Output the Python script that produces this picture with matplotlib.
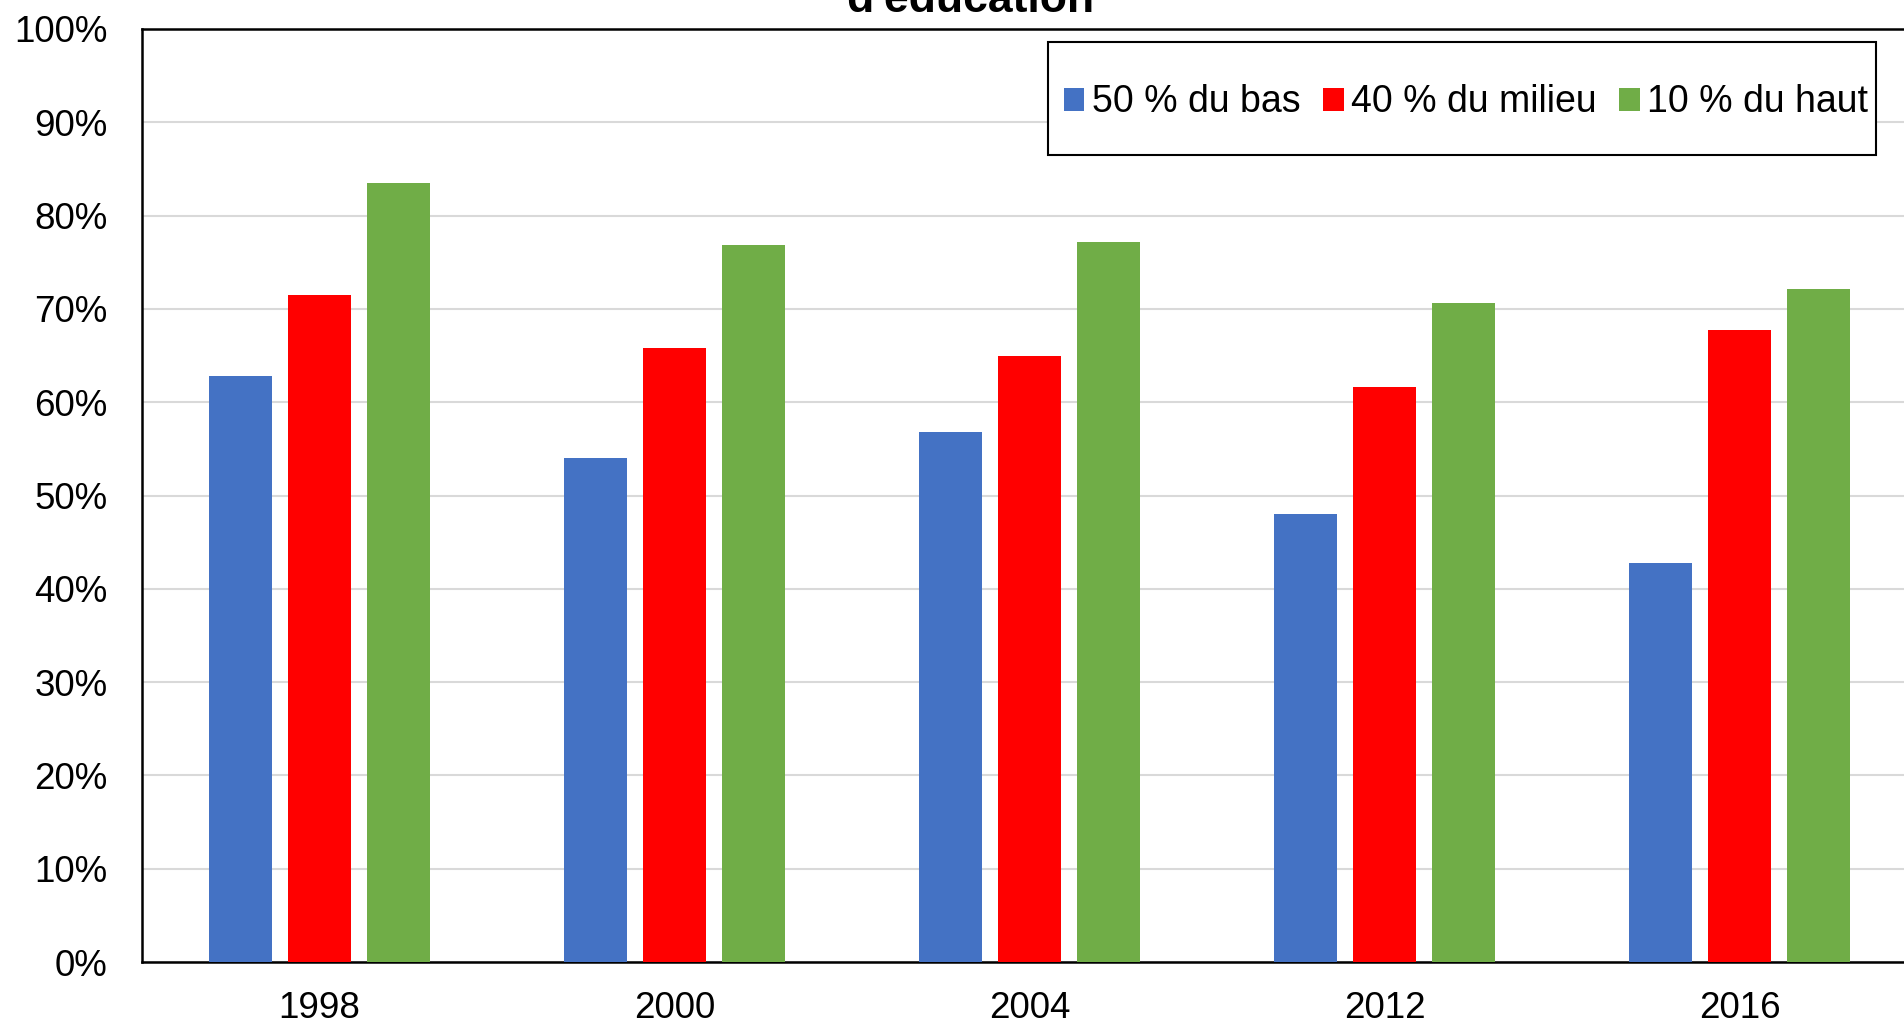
import matplotlib.pyplot as plt
import numpy as np
from matplotlib.ticker import PercentFormatter
from matplotlib.patches import Rectangle

plt.rcParams['font.family'] = ['Liberation Sans', 'DejaVu Sans']

# data
years = ["1998", "2000", "2004", "2012", "2016"]
bas = [62.8, 54.0, 56.8, 48.0, 42.8]
milieu = [71.5, 65.8, 65.0, 61.6, 67.7]
haut = [83.5, 76.8, 77.2, 70.6, 72.1]
labels = ["50 % du bas", "40 % du milieu", "10 % du haut"]
colors = ["#4472C4", "#FF0000", "#70AD47"]

W, H = 1904, 1024
fig = plt.figure(figsize=(W / 100, H / 100), dpi=100)
ax = fig.add_axes([142 / W, 1 - 962 / H, 1775 / W, (962 - 29) / H])

x = np.arange(len(years))
w = 0.178
step = 0.222
for i, (vals, lab, c) in enumerate(zip([bas, milieu, haut], labels, colors)):
    ax.bar(x + (i - 1) * step, vals, width=w, color=c, label=lab, zorder=3)

ax.set_xlim(-0.5, len(years) - 0.5)
ax.set_ylim(0, 100)
ax.set_yticks(np.arange(0, 101, 10))
ax.yaxis.set_major_formatter(PercentFormatter(decimals=0))
ax.set_xticks(x)
ax.set_xticklabels(years)
ax.tick_params(axis='both', length=0, labelsize=26.5)
ax.tick_params(axis='y', pad=25)
ax.tick_params(axis='x', pad=21)
ax.grid(axis='y', color='#d9d9d9', linewidth=1.5, zorder=0)
for s in ax.spines.values():
    s.set_color('black')
    s.set_linewidth(1.8)

# legend box drawn separately (wide, tall frame like the original)
bx0, bx1, by0, by1 = 1048, 1876, 42, 155
ax.add_patch(Rectangle((bx0 / W, 1 - by1 / H), (bx1 - bx0) / W, (by1 - by0) / H,
                       transform=fig.transFigure, facecolor='white', edgecolor='black',
                       linewidth=1.5, zorder=5, clip_on=False))
leg = ax.legend(ncol=3, loc='center', bbox_to_anchor=((bx0 + bx1) / 2 / W + 4 / W, 1 - (by0 + by1 + 8) / 2 / H),
                bbox_transform=fig.transFigure, fontsize=27, frameon=False,
                handlelength=0.55, handleheight=0.55, handletextpad=0.2,
                columnspacing=0.6, borderpad=0, borderaxespad=0)
leg.set_zorder(6)

fig.text(970 / W, 1 - 12 / H, "Taux de \u2026 selon le niveau\nd'éducation", ha='center', va='baseline',
         fontsize=32, fontweight='bold')

fig.savefig("out.png", dpi=100)
